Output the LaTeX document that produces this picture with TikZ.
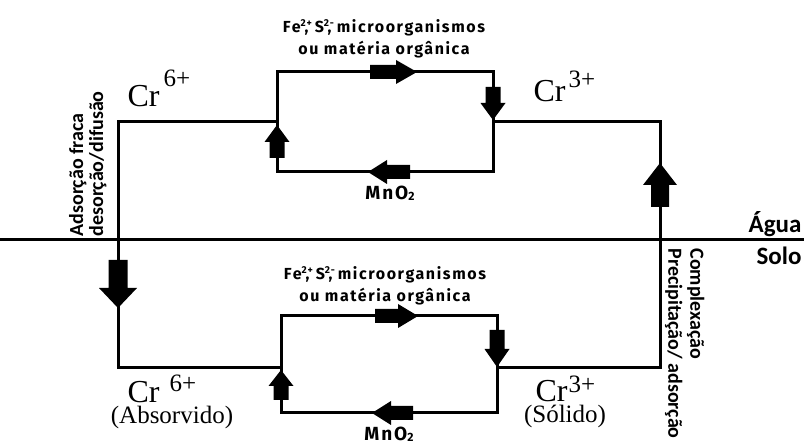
\documentclass[tikz,border=0pt]{standalone}
\usepackage{fontspec}
\setmainfont{Liberation Serif}
\newfontfamily\lblfont[LetterSpace=10]{Fira Sans}
\newfontfamily\calfont{Carlito}
% block arrow: x, y, angle, length, shaft width, head width, head length
\newcommand\barr[7]{\fill[shift={(#1,#2)},rotate=#3]
  ({-#4/2},{-#5/2}) -- ({#4/2-#7},{-#5/2}) -- ({#4/2-#7},{-#6/2}) -- ({#4/2},0)
  -- ({#4/2-#7},{#6/2}) -- ({#4/2-#7},{#5/2}) -- ({-#4/2},{#5/2}) -- cycle;}
\newcommand\supx[1]{\raisebox{0.42em}{\fontsize{10}{10}\selectfont #1}}
\newcommand\subtwo{\raisebox{-0.5pt}{\fontsize{12}{12}\selectfont 2}}
\begin{document}
\begin{tikzpicture}[x=1pt,y=-1pt,line width=3pt,
  lbl/.style={font=\lblfont\bfseries\fontsize{16}{18}\selectfont, inner sep=0pt, anchor=base},
  mno/.style={font=\lblfont\bfseries\fontsize{19}{19}\selectfont, inner sep=0pt, anchor=base},
  cr/.style={font=\fontsize{32}{34}\selectfont, inner sep=0pt, anchor=base west},
  state/.style={font=\fontsize{25}{27}\selectfont, inner sep=0pt, anchor=base},
  side/.style={font=\calfont\bfseries\fontsize{20}{20}\selectfont, inner sep=0pt, align=left},
  medium/.style={font=\calfont\bfseries\fontsize{25}{25}\selectfont, inner sep=0pt, anchor=base east}]
\useasboundingbox (0,0) rectangle (804,446);

% coordinates
\coordinate (hl) at (0,240); \coordinate (hr) at (804,240);
\coordinate (ul) at (277,122); \coordinate (ur) at (493,122);
\coordinate (ll) at (281,368); \coordinate (lr) at (497,368);
\coordinate (tl) at (118,122); \coordinate (bl) at (118,368);
\coordinate (tr) at (660,122); \coordinate (br) at (660,368);

% water / soil boundary
\draw (hl) -- (hr);
% outer paths
\draw (ul) -- (tl) -- (bl) -- (ll);
\draw (ur) -- (tr) -- (br) -- (lr);
% redox loops
\draw (277,72) rectangle (493,172);
\draw (281,316) rectangle (497,413);

% arrows upper loop
\barr{393.5}{72}{0}{47}{14}{24}{21}
\barr{493}{103.5}{-90}{33}{15}{25}{17}
\barr{389}{172}{180}{42}{14}{24}{19}
\barr{277}{141.5}{90}{33}{15}{25}{17}
% arrows lower loop
\barr{396.5}{316}{0}{43}{14}{24}{20}
\barr{497}{348.5}{-90}{37}{15}{25}{18}
\barr{392.5}{413}{180}{41}{14}{24}{19}
\barr{281}{385}{90}{30}{15}{25}{16}
% big arrows
\barr{118}{284}{-90}{48}{19}{38}{20}
\barr{660}{185}{90}{44}{18}{34}{22}

% labels
\node[lbl] (t1) at (384,33) {Fe\supx{2+}\kern-0.45em, \kern0.05em S\supx{2-}\kern-0.4em, microorganismos};
\node[lbl] (t2) at (384,55) {ou matéria orgânica};
\node[mno] (mn1) at (390,200) {MnO\subtwo};
\node[lbl] (b1) at (385,280) {Fe\supx{2+}\kern-0.45em, \kern0.05em S\supx{2-}\kern-0.4em, microorganismos};
\node[lbl] (b2) at (385,302) {ou matéria orgânica};
\node[mno] (mn2) at (389,441) {MnO\subtwo};

\node[cr] (cr6u) at (126,107) {Cr\kern4pt\raisebox{20pt}{\fontsize{25}{25}\selectfont 6+}};
\node[cr] (cr3u) at (532,102) {Cr\kern3pt\raisebox{14pt}{\fontsize{25}{25}\selectfont 3+}};
\node[cr] (cr6l) at (126,403) {Cr\kern10pt\raisebox{11pt}{\fontsize{25}{25}\selectfont 6+}};
\node[cr] (cr3l) at (534,402) {Cr\kern1pt\raisebox{9pt}{\fontsize{25}{25}\selectfont 3+}};
\node[state] (abs) at (172,424) {(Absorvido)};
\node[state] (sol) at (565,423) {(Sólido)};

\node[medium] (agua) at (803,233) {Água};
\node[medium] (solo) at (803,265) {Solo};

\node[side, rotate=90, anchor=south west] (ads) at (108,238) {Adsorção fraca\\desorção/difusão};
\node[side, font=\calfont\bfseries\fontsize{20}{22}\selectfont, rotate=-90, anchor=north west] (comp) at (706,247) {Complexação\\Precipitação/ adsorção};
\end{tikzpicture}
\end{document}
